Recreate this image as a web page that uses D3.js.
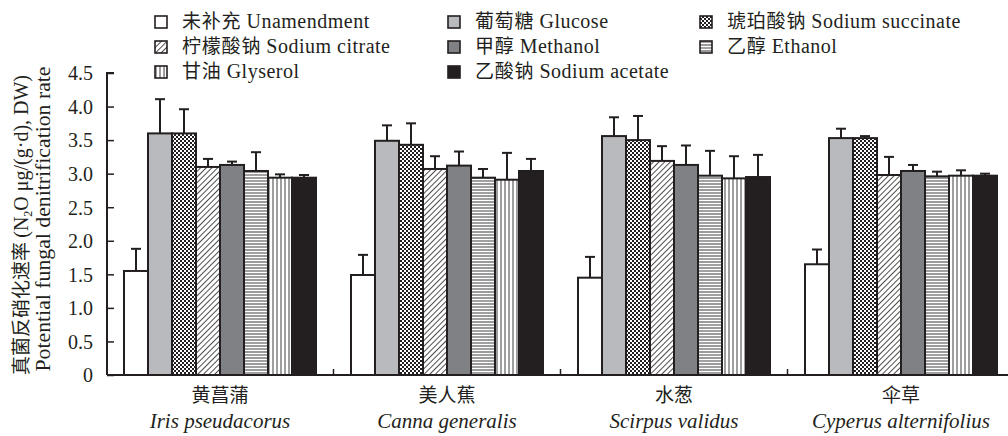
<!DOCTYPE html>
<html>
<head>
<meta charset="utf-8">
<script src="https://cdn.jsdelivr.net/npm/d3@7"></script>
<style>
  body { margin: 0; background: #fff; }
  svg { display: block; }
  text { fill: #231f20; }
</style>
</head>
<body>
<div id="chart"></div>
<script>
// Plants (x groups)
const plantsZh = ["黄菖蒲", "美人蕉", "水葱", "伞草"]
const plantsLa = ["Iris pseudacorus", "Canna generalis", "Scirpus validus", "Cyperus alternifolius"]

// Treatments (legend order)
const seriesZh = ["未补充", "葡萄糖", "琥珀酸钠", "柠檬酸钠", "甲醇", "乙醇", "甘油", "乙酸钠"]
const seriesEn = ["Unamendment", "Glucose", "Sodium succinate", "Sodium citrate", "Methanol", "Ethanol", "Glyserol", "Sodium acetate"]

// Means per treatment, one value per plant
const unamendment = [1.55, 1.49, 1.45, 1.65]
const glucose     = [3.60, 3.49, 3.56, 3.53]
const succinate   = [3.60, 3.43, 3.50, 3.53]
const citrate     = [3.10, 3.07, 3.19, 2.98]
const methanol    = [3.13, 3.12, 3.13, 3.04]
const ethanol     = [3.04, 2.94, 2.97, 2.96]
const glycerol    = [2.94, 2.91, 2.93, 2.97]
const acetate     = [2.94, 3.04, 2.95, 2.97]

// Upper error bar (SD) per treatment
const unamendmentSd = [0.33, 0.30, 0.31, 0.22]
const glucoseSd     = [0.51, 0.23, 0.28, 0.14]
const succinateSd   = [0.36, 0.32, 0.36, 0.03]
const citrateSd     = [0.12, 0.19, 0.22, 0.27]
const methanolSd    = [0.05, 0.21, 0.29, 0.09]
const ethanolSd     = [0.28, 0.13, 0.37, 0.07]
const glycerolSd    = [0.05, 0.40, 0.33, 0.08]
const acetateSd     = [0.04, 0.18, 0.33, 0.03]

const yTicks = [0, 0.5, 1.0, 1.5, 2.0, 2.5, 3.0, 3.5, 4.0, 4.5]

const means = [unamendment, glucose, succinate, citrate, methanol, ethanol, glycerol, acetate]
const sds = [unamendmentSd, glucoseSd, succinateSd, citrateSd, methanolSd, ethanolSd, glycerolSd, acetateSd]

const W = 1008, H = 436
const ink = "#231f20"
const serif = "Liberation Serif, Times New Roman, Times, serif"
const cjk = "Noto Sans CJK SC, sans-serif"

const svg = d3.select("#chart").append("svg")
  .attr("width", W).attr("height", H)

// Fill patterns for the treatments
const defs = svg.append("defs")

const checker = defs.append("pattern").attr("id", "p-succ")
  .attr("width", 4).attr("height", 4).attr("patternUnits", "userSpaceOnUse")
checker.append("rect").attr("width", 4).attr("height", 4).attr("fill", "#fff")
checker.append("rect").attr("width", 2).attr("height", 2).attr("fill", ink)
checker.append("rect").attr("x", 2).attr("y", 2).attr("width", 2).attr("height", 2).attr("fill", ink)

const diag = defs.append("pattern").attr("id", "p-citr")
  .attr("width", 4).attr("height", 4).attr("patternUnits", "userSpaceOnUse")
  .attr("patternTransform", "rotate(45)")
diag.append("rect").attr("width", 4).attr("height", 4).attr("fill", "#fff")
diag.append("line").attr("x1", 0).attr("y1", 0).attr("x2", 0).attr("y2", 4)
  .attr("stroke", ink).attr("stroke-width", 1.6)

const horiz = defs.append("pattern").attr("id", "p-eth")
  .attr("width", 6).attr("height", 6).attr("patternUnits", "userSpaceOnUse")
horiz.append("rect").attr("width", 6).attr("height", 6).attr("fill", "#fff")
horiz.append("line").attr("x1", 0).attr("y1", 1).attr("x2", 6).attr("y2", 1)
  .attr("stroke", "#8a8a8e").attr("stroke-width", 1.6)
horiz.append("line").attr("x1", 0).attr("y1", 4).attr("x2", 6).attr("y2", 4)
  .attr("stroke", "#555").attr("stroke-width", 1.2)

const vert = defs.append("pattern").attr("id", "p-gly")
  .attr("width", 4).attr("height", 4).attr("patternUnits", "userSpaceOnUse")
vert.append("rect").attr("width", 4).attr("height", 4).attr("fill", "#fff")
vert.append("line").attr("x1", 1).attr("y1", 0).attr("x2", 1).attr("y2", 4)
  .attr("stroke", "#6a6a6e").attr("stroke-width", 1.3)

const fills = ["#ffffff", "#b9babd", "url(#p-succ)", "url(#p-citr)", "#808185", "url(#p-eth)", "url(#p-gly)", ink]

// Scales
const margin = { left: 107, top: 73, bottom: 375 }
const x0 = d3.scaleBand().domain(d3.range(plantsZh.length)).range([106.5, 1014.5])
const x1 = d3.scaleBand().domain(d3.range(seriesEn.length)).range([17.5, x0.bandwidth() - 17.5])
const y = d3.scaleLinear().domain([0, 4.5]).range([margin.bottom, margin.top])

// Bars
const rows = []
means.forEach((arr, s) => arr.forEach((v, g) => rows.push({ s, g, v, sd: sds[s][g] })))
const cx = d => x0(d.g) + x1(d.s) + x1.bandwidth() / 2

const bars = svg.append("g")
bars.selectAll("rect").data(rows).join("rect")
  .attr("x", d => x0(d.g) + x1(d.s))
  .attr("y", d => y(d.v))
  .attr("width", x1.bandwidth())
  .attr("height", d => y(0) - y(d.v))
  .attr("fill", d => fills[d.s])
  .attr("stroke", ink)
  .attr("stroke-width", 2)

// Upper error bars
const err = svg.append("g").attr("stroke", ink).attr("stroke-width", 2)
err.selectAll("line.v").data(rows).join("line").attr("class", "v")
  .attr("x1", cx).attr("x2", cx)
  .attr("y1", d => y(d.v))
  .attr("y2", d => y(d.v + d.sd))
err.selectAll("line.c").data(rows).join("line").attr("class", "c")
  .attr("x1", d => cx(d) - 5)
  .attr("x2", d => cx(d) + 5)
  .attr("y1", d => y(d.v + d.sd))
  .attr("y2", d => y(d.v + d.sd))

// Y axis (ticks pointing inwards)
const yAxis = svg.append("g")
  .attr("transform", `translate(${margin.left},0)`)
  .call(d3.axisRight(y).tickValues(yTicks).tickSize(7).tickFormat(d => d === 0 ? "0" : d3.format(".1f")(d)))
yAxis.select(".domain").attr("stroke", ink).attr("stroke-width", 2).attr("d", `M7,${y(4.5)}H0V${y(0)}`)
yAxis.selectAll(".tick line").attr("stroke", ink).attr("stroke-width", 1.5)
yAxis.selectAll(".tick text")
  .attr("x", -14).attr("text-anchor", "end").attr("dy", "0.34em")
  .attr("font-family", serif).attr("font-size", 20).attr("fill", ink)

// X axis with boundary ticks pointing up
const xAxis = svg.append("g").attr("transform", `translate(0,${y(0)})`)
xAxis.append("line").attr("x1", margin.left).attr("x2", W)
  .attr("stroke", ink).attr("stroke-width", 2)
xAxis.selectAll("line.t").data(d3.range(1, plantsZh.length)).join("line").attr("class", "t")
  .attr("x1", d => x0(d)).attr("x2", d => x0(d))
  .attr("y1", 0).attr("y2", -6)
  .attr("stroke", ink).attr("stroke-width", 1.5)

// Group labels
const gl = svg.append("g").attr("text-anchor", "middle")
gl.selectAll("text.zh").data(plantsZh).join("text").attr("class", "zh")
  .attr("x", (d, i) => x0(i) + x0.bandwidth() / 2).attr("y", 402)
  .attr("font-family", cjk).attr("font-size", 19).text(d => d)
gl.selectAll("text.la").data(plantsLa).join("text").attr("class", "la")
  .attr("x", (d, i) => x0(i) + x0.bandwidth() / 2).attr("y", 428)
  .attr("font-family", serif).attr("font-style", "italic").attr("font-size", 21).text(d => d)

// Y title (two lines)
const yt = svg.append("g").attr("text-anchor", "middle")
const t1 = yt.append("text").attr("transform", "translate(28,225) rotate(-90)")
  .attr("font-size", 20)
t1.append("tspan").attr("font-family", cjk).attr("font-size", 19).text("真菌反硝化速率 ")
t1.append("tspan").attr("font-family", serif).text("(N")
t1.append("tspan").attr("font-family", serif).attr("font-size", 12).attr("dy", 4).text("2")
t1.append("tspan").attr("font-family", serif).attr("dy", -4).text("O μg/(g·d), DW)")
yt.append("text").attr("transform", "translate(50,219) rotate(-90)")
  .attr("font-family", serif).attr("font-size", 20)
  .attr("textLength", 305).attr("lengthAdjust", "spacingAndGlyphs")
  .text("Potential fungal denitrification rate")

// Legend, three columns
const legX = [155, 448, 700]
const legY = [22, 47, 72]
const leg = svg.append("g")
const items = leg.selectAll("g").data(seriesEn).join("g")
  .attr("transform", (d, i) => `translate(${legX[i % 3]},${legY[Math.floor(i / 3)]})`)
items.append("rect")
  .attr("x", 0).attr("y", -6).attr("width", 12).attr("height", 12)
  .attr("fill", (d, i) => fills[i]).attr("stroke", ink).attr("stroke-width", 1.6)
const lt = items.append("text").attr("x", 27).attr("dy", "0.35em")
lt.append("tspan").attr("font-family", cjk).attr("font-size", 19).attr("letter-spacing", 0.8)
  .text((d, i) => seriesZh[i] + " ")
lt.append("tspan").attr("font-family", serif).attr("font-size", 20).attr("letter-spacing", 0.5)
  .text(d => d)
</script>
</body>
</html>
